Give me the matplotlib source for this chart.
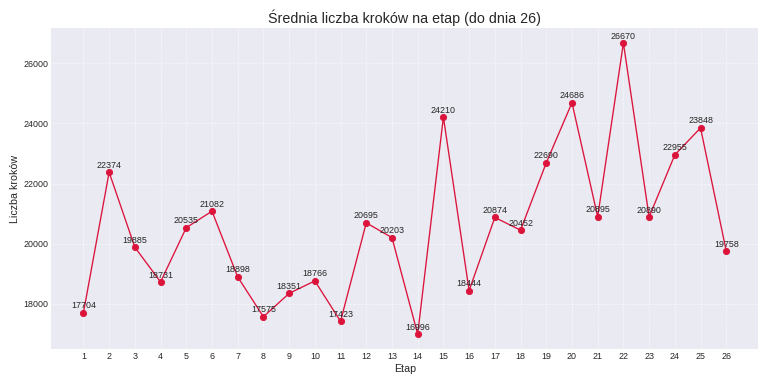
import matplotlib.pyplot as plt
import numpy as np

etapy = list(range(1, 27))
kroki = [17704, 22374, 19885, 18731, 20535, 21082, 18898, 17575, 18351, 18766,
         17423, 20695, 20203, 16996, 24210, 18444, 20874, 20452, 22690, 24686,
         20895, 26670, 20890, 22955, 23848, 19758]

plt.style.use('seaborn-v0_8-darkgrid')
plt.rcParams['font.family'] = ['Liberation Sans', 'DejaVu Sans']
fig, ax = plt.subplots(figsize=(12, 6), dpi=64)

ax.plot(etapy, kroki, marker='o', color='crimson', linewidth=1.5, markersize=7)
for x, y in zip(etapy, kroki):
    ax.annotate(str(y), (x, y), textcoords='offset points', xytext=(0, 5),
                ha='center', fontsize=10)

ax.set_title('Średnia liczba kroków na etap (do dnia 26)', fontsize=16)
ax.set_xlabel('Etap', fontsize=12)
ax.set_ylabel('Liczba kroków', fontsize=12)
ax.set_xticks(etapy)
ax.grid(True, linestyle='--', alpha=0.7)

plt.tight_layout()
plt.savefig('out.png')
